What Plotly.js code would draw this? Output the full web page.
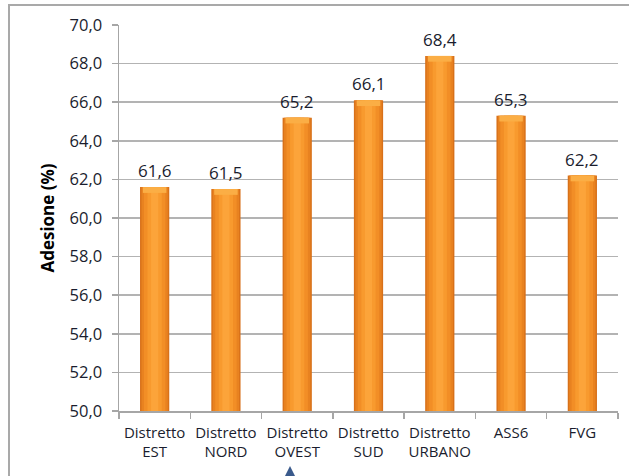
<!DOCTYPE html>
<html>
<head>
<meta charset="utf-8">
<script src="https://cdn.plot.ly/plotly-3.0.1.min.js"></script>
<style>
html,body{margin:0;padding:0;background:#fff;overflow:hidden;}
#chart{width:629px;height:476px;position:absolute;left:0;top:0;}
#frame{position:absolute;left:8px;top:4px;width:700px;height:600px;border-left:2px solid #a9a9a9;border-top:2px solid #a9a9a9;pointer-events:none;}
</style>
</head>
<body>
<div id="chart"></div>
<div id="frame"></div>
<script>
const categories = ["Distretto<br>EST","Distretto<br>NORD","Distretto<br>OVEST","Distretto<br>SUD","Distretto<br>URBANO","ASS6","FVG"];
const adesione = [61.6, 61.5, 65.2, 66.1, 68.4, 65.3, 62.2];
const valueLabels = ["61,6","61,5","65,2","66,1","68,4","65,3","62,2"];
const yTitle = "Adesione (%)";

const FONT = "'Open Sans', 'Noto Sans', sans-serif";
const TXT = "#1a1d2e";
const layers = [
  {w:0.41, c:"#d8711a"},
  {w:0.37, c:"#e88220"},
  {w:0.30, c:"#f28e26"},
  {w:0.20, c:"#f89a2e"},
  {w:0.10, c:"#fca43a"}
];
const traces = layers.map((l)=>({
  type:"bar",
  x:categories,
  y:adesione.map(v=>v-50),
  base:50,
  width:l.w,
  marker:{color:l.c, line:{width:0}},
  hoverinfo:"none",
  showlegend:false
}));
// light bevel cap at the top of each bar
const CAP = 0.3;
traces.push({
  type:"bar",
  x:categories,
  y:adesione.map(()=>CAP),
  base:adesione.map(v=>v-CAP),
  width:0.33,
  marker:{color:"#fbae45", line:{width:0}},
  hoverinfo:"none",
  showlegend:false
});

const annotations = categories.map((c,i)=>({
  x:c, y:adesione[i], xref:"x", yref:"y",
  text:valueLabels[i], showarrow:false,
  yanchor:"bottom", xanchor:"center", yshift:3,
  font:{family:FONT,size:17,color:TXT}
}));

const layout = {
  width:629, height:476,
  margin:{l:119,r:11,t:25,b:65},
  paper_bgcolor:"#fff", plot_bgcolor:"#fff",
  barmode:"overlay",
  separators:",.",
  font:{family:FONT,size:14,color:TXT},
  xaxis:{
    showline:true, linecolor:"#a6a6a6", linewidth:1.5,
    ticks:"outside", ticklen:6, tickcolor:"#a6a6a6", tickwidth:1.5,
    tickson:"boundaries",
    tickangle:0,
    ticklabelstandoff:7,
    showgrid:false, zeroline:false,
    tickfont:{family:FONT,size:15,color:TXT},
    fixedrange:true
  },
  yaxis:{
    range:[50,70], dtick:2, tick0:50, tickformat:".1f",
    showline:true, linecolor:"#a6a6a6", linewidth:1.5,
    ticks:"outside", ticklen:6, tickcolor:"#a6a6a6", tickwidth:1.5,
    ticklabelstandoff:6,
    showgrid:true, gridcolor:"#b3b3b3", gridwidth:1.5,
    zeroline:false,
    tickfont:{family:FONT,size:16.5,color:TXT},
    title:{text:yTitle, font:{family:FONT,size:17,color:"#000",weight:"bold"}, standoff:10},
    fixedrange:true
  },
  annotations:annotations,
  shapes:[{
    type:"path", xref:"paper", yref:"paper",
    path:"M 0.3307 -0.1736 L 0.3427 -0.1425 L 0.3547 -0.1736 Z",
    fillcolor:"#3a5a8c", line:{width:0}
  }]
};
Plotly.newPlot("chart", traces, layout, {displayModeBar:false, staticPlot:true});
</script>
</body>
</html>
